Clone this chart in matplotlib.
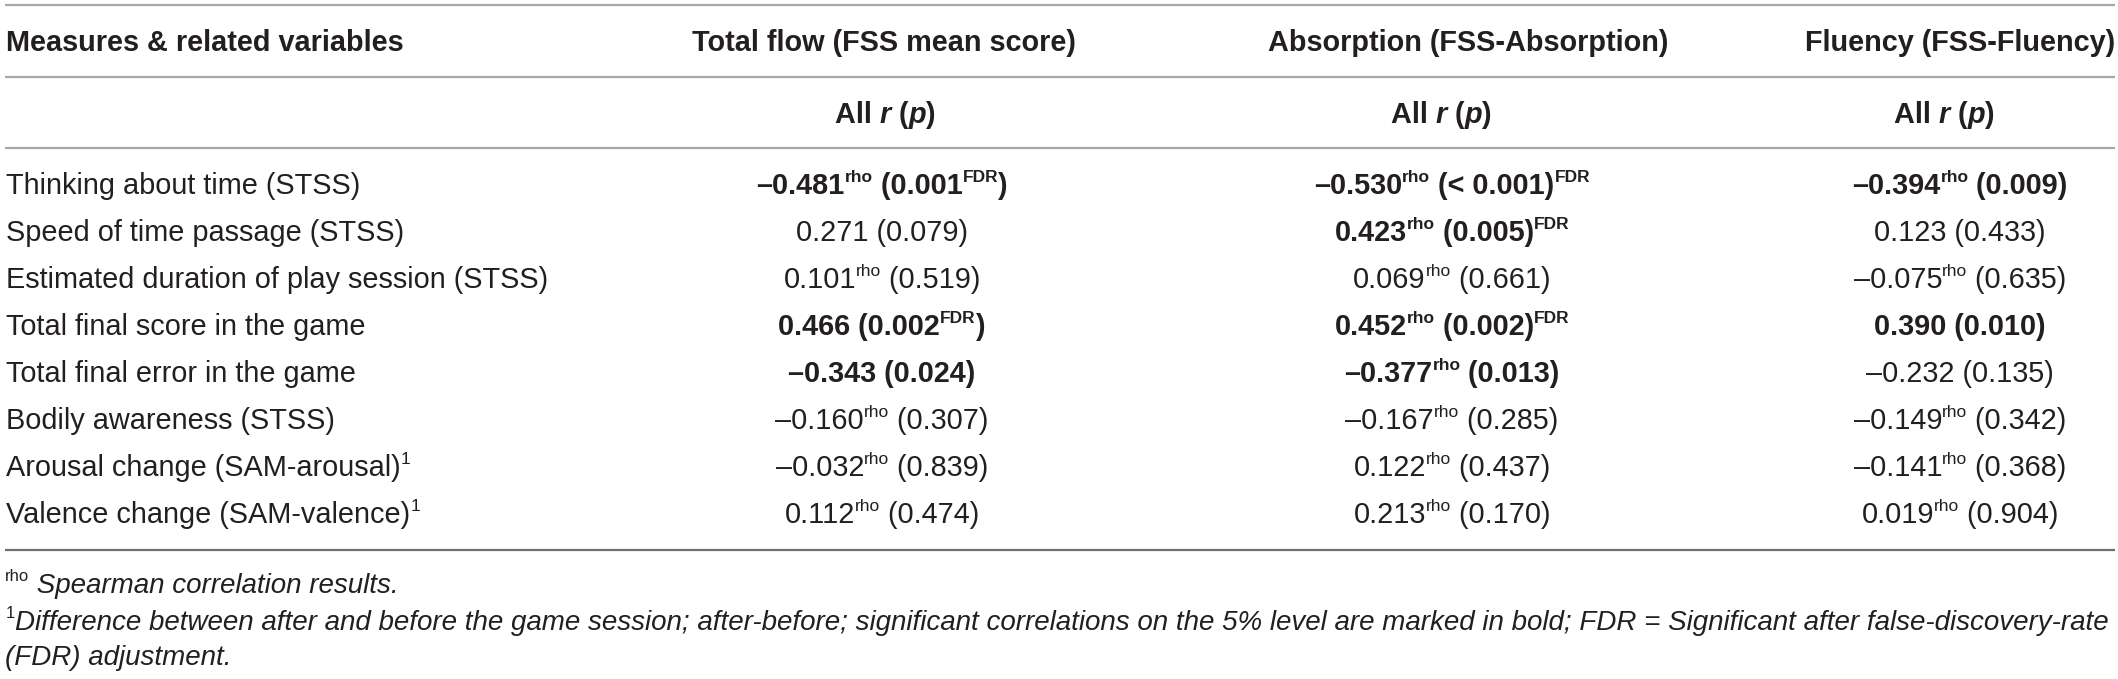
import re
import matplotlib
matplotlib.use("Agg")
import matplotlib.pyplot as plt

plt.rcParams['font.family'] = ['Liberation Sans', 'DejaVu Sans']

# table content
col_headers = ["Total flow (FSS mean score)", "Absorption (FSS-Absorption)", "Fluency (FSS-Fluency)"]
row_labels = [
    "Thinking about time (STSS)",
    "Speed of time passage (STSS)",
    "Estimated duration of play session (STSS)",
    "Total final score in the game",
    "Total final error in the game",
    "Bodily awareness (STSS)",
    "Arousal change (SAM-arousal)^1",
    "Valence change (SAM-valence)^1",
]
total_flow = [
    "–0.481^rho (0.001^FDR)", "0.271 (0.079)", "0.101^rho (0.519)", "0.466 (0.002^FDR)",
    "–0.343 (0.024)", "–0.160^rho (0.307)", "–0.032^rho (0.839)", "0.112^rho (0.474)",
]
absorption = [
    "–0.530^rho (< 0.001)^FDR", "0.423^rho (0.005)^FDR", "0.069^rho (0.661)", "0.452^rho (0.002)^FDR",
    "–0.377^rho (0.013)", "–0.167^rho (0.285)", "0.122^rho (0.437)", "0.213^rho (0.170)",
]
fluency = [
    "–0.394^rho (0.009)", "0.123 (0.433)", "–0.075^rho (0.635)", "0.390 (0.010)",
    "–0.232 (0.135)", "–0.149^rho (0.342)", "–0.141^rho (0.368)", "0.019^rho (0.904)",
]
total_bold = [True, False, False, True, True, False, False, False]
absorption_bold = [True, True, False, True, True, False, False, False]
fluency_bold = [True, False, False, True, False, False, False, False]

footnote_rho = " Spearman correlation results."
footnote_1 = ("Difference between after and before the game session; after-before; significant "
              "correlations on the 5% level are marked in bold; FDR = Significant after false-discovery-rate")
footnote_1b = "(FDR) adjustment."

# layout (pixels, y downwards)
W, H = 2118, 679
FS = 20.8
TXT = '#231f20'
head_x = [884, 1468, 1960]
sub_x = [885, 1441, 1944]
data_x = [882, 1452, 1960]
row_base0, row_step = 194, 47
SUP_RAISE = 12
SUP_SCALE = 0.6

fig = plt.figure(figsize=(W / 100, H / 100), dpi=100)
ax = fig.add_axes([0, 0, 1, 1])
ax.set_xlim(0, W)
ax.set_ylim(H, 0)
ax.axis('off')
renderer = fig.canvas.get_renderer()


def rich(x, y, segs, ha='center', size=FS):
    # segs: list of (text, bold, italic, sup)
    objs = []
    for text, bold, italic, sup in segs:
        t = ax.text(0, y - (SUP_RAISE * size / FS if sup else 0), text,
                    fontsize=size * (SUP_SCALE if sup else 1),
                    fontweight='bold' if bold else 'normal',
                    fontstyle='italic' if italic else 'normal',
                    ha='left', va='baseline', color=TXT)
        objs.append(t)
    widths = [o.get_window_extent(renderer).width for o in objs]
    total = sum(widths)
    cx = x - total / 2 if ha == 'center' else x
    for o, w in zip(objs, widths):
        o.set_x(cx)
        cx += w
    return total


def parse(cell, bold):
    parts = re.split(r'\^(rho|FDR|1)', cell)
    segs = []
    for i, p in enumerate(parts):
        if p:
            segs.append((p, bold, False, i % 2 == 1))
    return segs


# rules
for yl, c in [(5, '#a8a8a8'), (77, '#a8a8a8'), (148, '#a8a8a8'), (550, '#707070')]:
    ax.plot([5, 2115], [yl, yl], color=c, lw=1.6, solid_capstyle='butt')

# header
rich(6, 51, [("Measures & related variables", True, False, False)], ha='left')
for hx, h in zip(head_x, col_headers):
    rich(hx, 51, [(h, True, False, False)])
for sx in sub_x:
    rich(sx, 123, [("All ", True, False, False), ("r", True, True, False),
                   (" (", True, False, False), ("p", True, True, False), (")", True, False, False)])

# body
columns = [(total_flow, total_bold), (absorption, absorption_bold), (fluency, fluency_bold)]
for i, lab in enumerate(row_labels):
    yb = row_base0 + i * row_step
    rich(6, yb, parse(lab, False), ha='left')
    for dx, (vals, bolds) in zip(data_x, columns):
        rich(dx, yb, parse(vals[i], bolds[i]))

# footnotes, fitted to the table width
probe = ax.text(0, 0, footnote_1, fontsize=FS, fontstyle='italic')
fw = probe.get_window_extent(renderer).width
probe.remove()
fn_size = min(FS, FS * (2113 - 22) / fw)
rich(5, 593, [("rho", False, False, True), (footnote_rho, False, True, False)], ha='left', size=fn_size)
rich(6, 630, [("1", False, False, True), (footnote_1, False, True, False)], ha='left', size=fn_size)
rich(5, 665, [(footnote_1b, False, True, False)], ha='left', size=fn_size)

fig.savefig('out.png', dpi=100)
